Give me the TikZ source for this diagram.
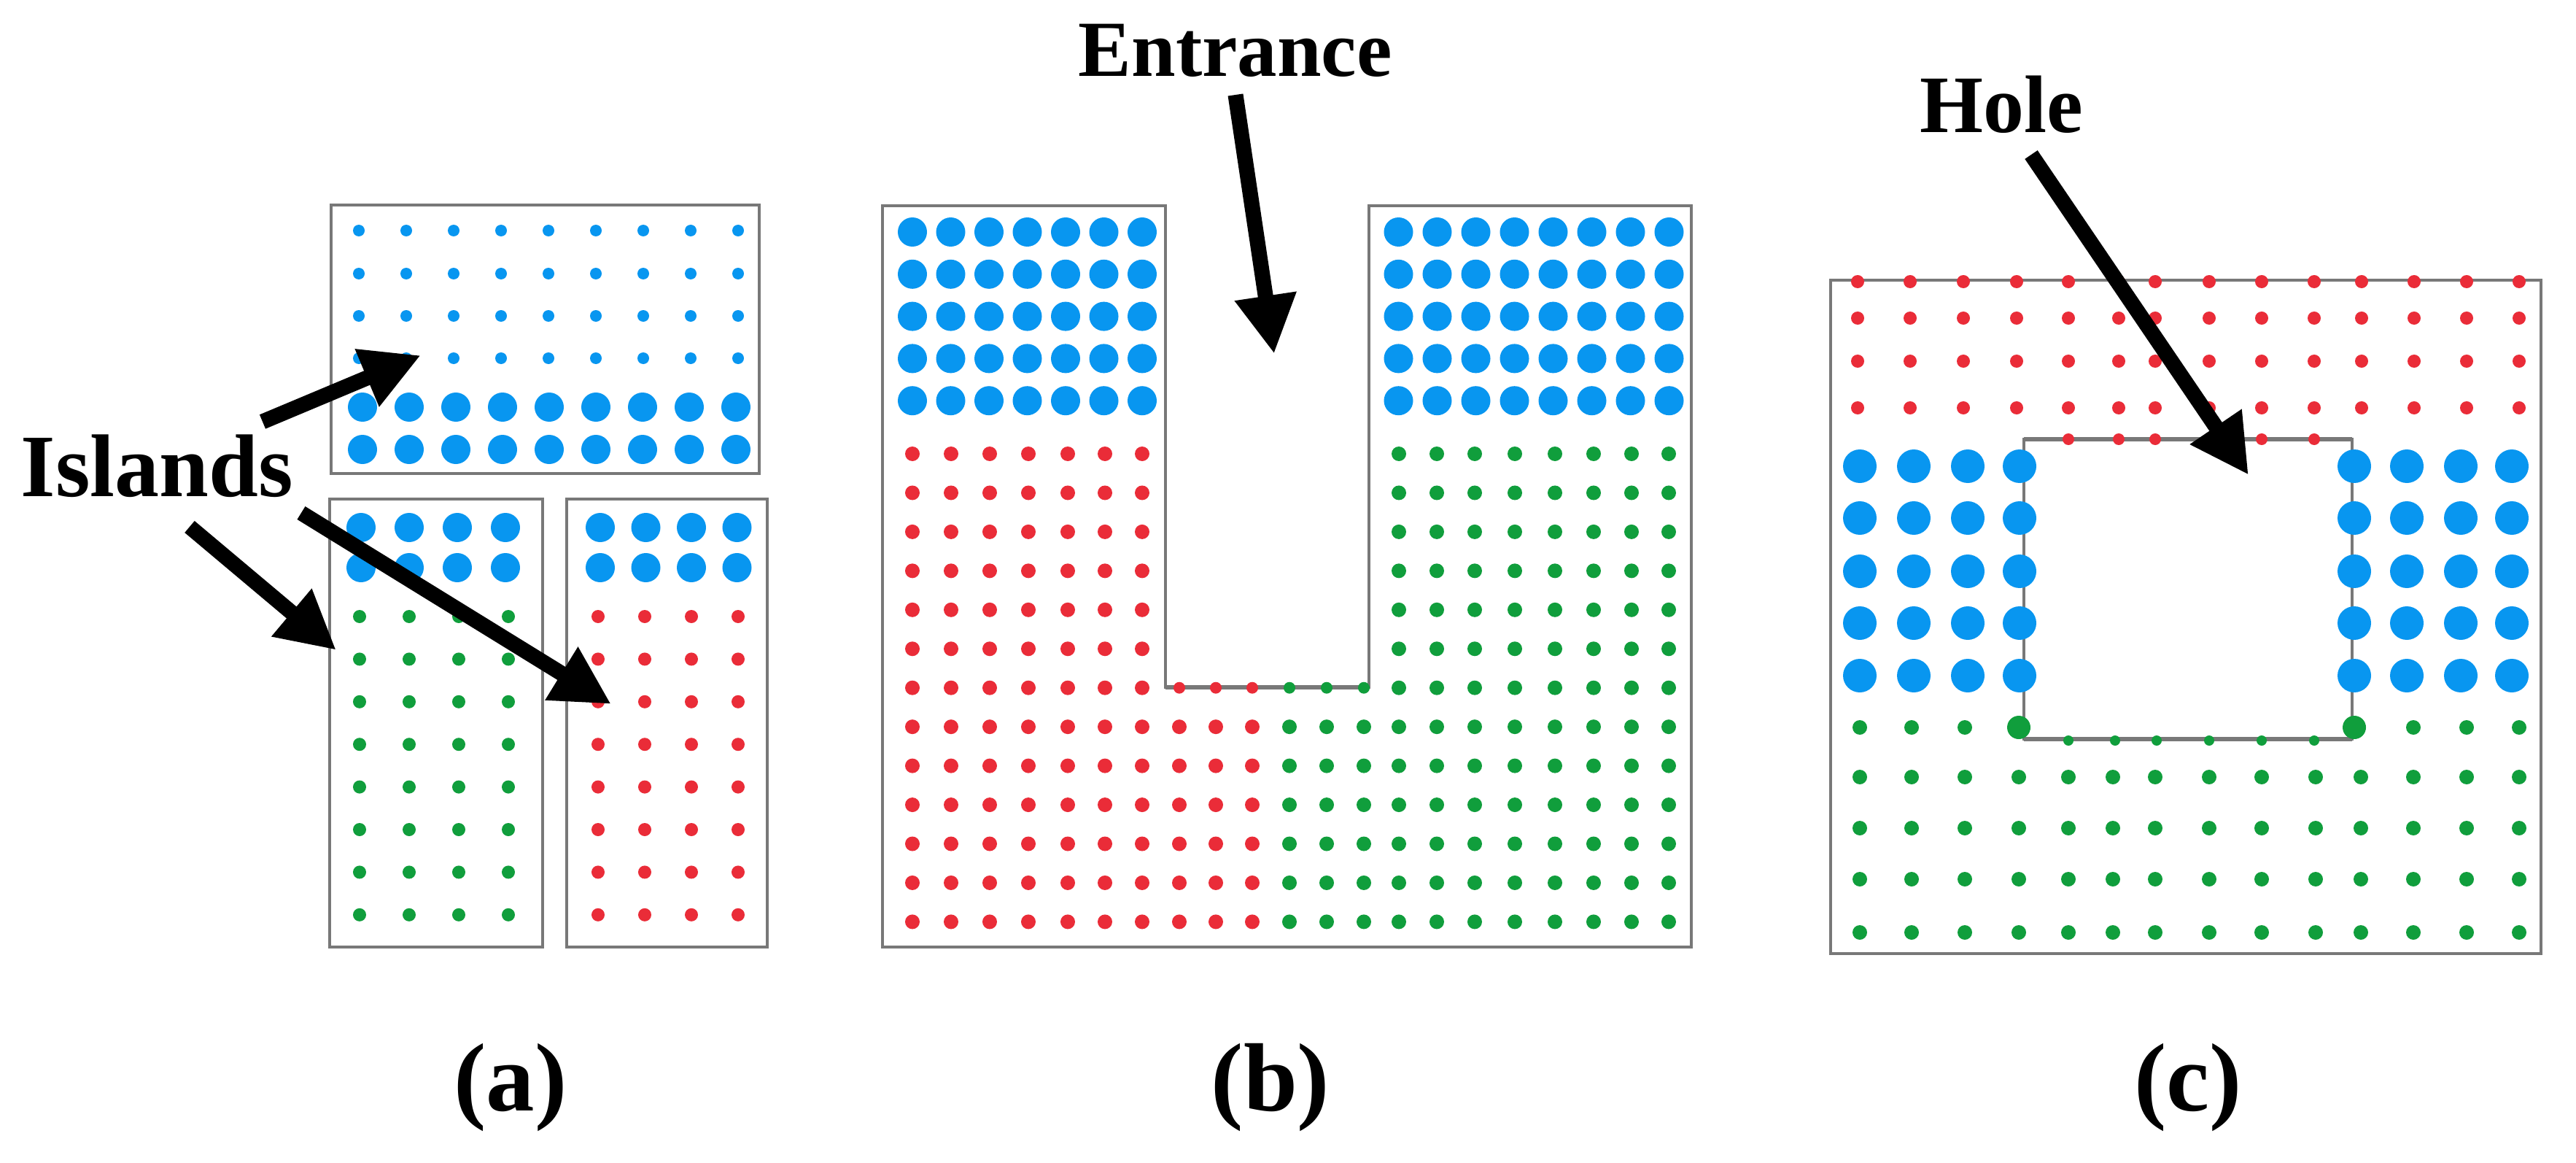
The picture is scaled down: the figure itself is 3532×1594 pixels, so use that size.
\documentclass[tikz,border=0pt]{standalone}
\usepackage{fontspec}
\setmainfont{Liberation Serif}
\usetikzlibrary{arrows.meta}
\definecolor{dotblue}{RGB}{8,150,240}
\definecolor{dotred}{RGB}{234,44,56}
\definecolor{dotgreen}{RGB}{16,158,60}
\definecolor{framegray}{RGB}{120,120,120}
\begin{document}
\begin{tikzpicture}[x=0.01cm,y=-0.01cm,
  frame/.style={draw=framegray,line width=0.04cm},
  edgeline/.style={draw=framegray,line width=0.06cm},
  bigarrow/.style={line width=0.21cm,-{Triangle[length=0.8cm,width=0.8cm]}},
  lbl/.style={inner sep=0pt,font=\bfseries}]
\useasboundingbox[fill=white] (0,0) rectangle (3532,1594);

% ---------------- panel (a) ----------------
\draw[frame] (454,281) rectangle (1041,649);
\draw[frame] (452,684) rectangle (744,1298);
\draw[frame] (777,684) rectangle (1052,1298);
\foreach \i in {0,...,8}{
  \foreach \y in {316,375,433,491} \fill[dotblue] ({492+65*\i},\y) circle[radius=8];
  \foreach \y in {558,616} \fill[dotblue] ({497+64*\i},\y) circle[radius=20];
}
\foreach \i in {0,...,3}{
  \foreach \y in {723,778} \fill[dotblue] ({495+66*\i},\y) circle[radius=20];
  \foreach \y in {723,778} \fill[dotblue] ({823+62.5*\i},\y) circle[radius=20];
  \foreach \j in {0,...,7}{
    \fill[dotgreen] ({493+68*\i},{845+58.4*\j}) circle[radius=9];
    \fill[dotred] ({820+64*\i},{845+58.4*\j}) circle[radius=9];
  }
}

% ---------------- panel (b) ----------------
\draw[frame] (1210,282) -- (1598,282) -- (1598,942) -- (1877,942) -- (1877,282)
  -- (2319,282) -- (2319,1298) -- (1210,1298) -- cycle;
\draw[edgeline] (1598,942) -- (1877,942);
\foreach \j in {0,...,4}{
  \foreach \i in {0,...,6} \fill[dotblue] ({1251+52.5*\i},{318+57.8*\j}) circle[radius=20];
  \foreach \i in {0,...,7} \fill[dotblue] ({1917.5+53*\i},{318+57.8*\j}) circle[radius=20];
}
\foreach \x [count=\k from 0] in {1251,1304,1357,1410,1464,1515,1566,1617,1667,1717,1768,1819,1870,1918,1970,2022,2077,2132,2185,2237,2288}{
  \foreach \j in {0,...,12}{
    \pgfmathtruncatemacro{\inmid}{(\k>6)&&(\k<13)}
    \pgfmathtruncatemacro{\show}{(\inmid==0)||(\j>5)}
    \pgfmathtruncatemacro{\isred}{(\j<6)&&(\k<7) || (\j>5)&&(\k<10)}
    \pgfmathsetmacro{\rad}{(\inmid==1)&&(\j==6) ? 8 : 10}
    \ifnum\show=1
      \ifnum\isred=1
        \fill[dotred] (\x,{622+53.45*\j}) circle[radius=\rad];
      \else
        \fill[dotgreen] (\x,{622+53.45*\j}) circle[radius=\rad];
      \fi
    \fi
  }
}

% ---------------- panel (c) ----------------
\draw[frame] (2510,384) rectangle (3484,1307);
\draw[frame] (2775,602) rectangle (3225,1013);
\draw[edgeline] (2775,602) -- (3225,602);
\draw[edgeline] (2775,1013) -- (3225,1013);
\foreach \x in {2547,2619,2692,2765,2836,2905,2955,3029,3101,3173,3238,3310,3382,3454}{
  \foreach \y in {386,436,495,559} \fill[dotred] (\x,\y) circle[radius=9];
}
\foreach \x in {2836,2905,2955,3029,3101,3173} \fill[dotred] (\x,602) circle[radius=8];
\foreach \x in {2550,2624,2698,2769,3228,3300,3374,3444}{
  \foreach \y in {639,710,783,854,926} \fill[dotblue] (\x,\y) circle[radius=23];
}
\foreach \x in {2550,2621,2694,3309,3382,3454} \fill[dotgreen] (\x,997) circle[radius=10];
\foreach \x in {2768,3228} \fill[dotgreen] (\x,997) circle[radius=16];
\foreach \x in {2836,2900,2957,3029,3101,3173} \fill[dotgreen] (\x,1015) circle[radius=7];
\foreach \x in {2550,2621,2694,2768,2836,2897,2955,3029,3101,3175,3237,3309,3382,3454}{
  \foreach \y in {1065,1135,1205,1278} \fill[dotgreen] (\x,\y) circle[radius=10];
}

% ---------------- labels ----------------
\node[lbl,anchor=base west,font=\bfseries\fontsize{34.7}{40}\selectfont] (islands) at (28,680) {Islands};
\node[lbl,anchor=base west,font=\bfseries\fontsize{31}{36}\selectfont] (entrance) at (1478,105) {Entrance};
\node[lbl,anchor=base west,font=\bfseries\fontsize{31.8}{36}\selectfont] (hole) at (2632,182) {Hole};
\node[lbl,anchor=base,font=\bfseries\fontsize{37.8}{44}\selectfont] (la) at (700,1522) {(a)};
\node[lbl,anchor=base,font=\bfseries\fontsize{37.8}{44}\selectfont] (lb) at (1742,1522) {(b)};
\node[lbl,anchor=base,font=\bfseries\fontsize{37.8}{44}\selectfont] (lc) at (3000,1522) {(c)};

% ---------------- arrows ----------------
\coordinate (t1) at (360,578);  \coordinate (h1) at (577,487);
\coordinate (t2) at (260,722);  \coordinate (h2) at (461,891);
\coordinate (t3) at (413,703);  \coordinate (h3) at (838,965);
\coordinate (t4) at (1694,130); \coordinate (h4) at (1747,485);
\coordinate (t5) at (2785,212); \coordinate (h5) at (3083,651);
\draw[bigarrow] (t1) -- (h1);
\draw[bigarrow] (t2) -- (h2);
\draw[bigarrow] (t3) -- (h3);
\draw[bigarrow] (t4) -- (h4);
\draw[bigarrow] (t5) -- (h5);
\end{tikzpicture}
\end{document}
